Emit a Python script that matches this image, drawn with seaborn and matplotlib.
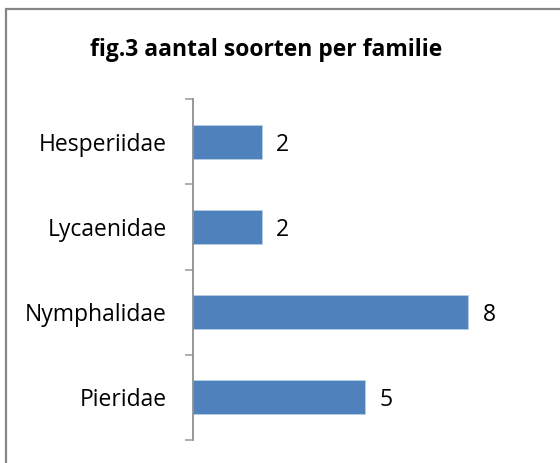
import matplotlib
matplotlib.use("Agg")
import matplotlib.pyplot as plt
import seaborn as sns
import pandas as pd
from matplotlib.patches import Rectangle

sns.set_style("white")
plt.rcParams["font.family"] = ["Open Sans", "DejaVu Sans"]

TITLE = "fig.3 aantal soorten per familie"
FAMILIES = ["Hesperiidae", "Lycaenidae", "Nymphalidae", "Pieridae"]
COUNTS = [2, 2, 8, 5]
BAR_COLOR = "#4F81BD"
AXIS_GREY = "#868686"

df = pd.DataFrame({"familie": FAMILIES, "aantal": COUNTS})

fig = plt.figure(figsize=(5.6, 4.63), dpi=100)
ax = fig.add_axes([193 / 560, 1 - 440 / 463, (537 - 193) / 560, (440 - 99) / 463])

sns.barplot(data=df, x="aantal", y="familie", order=FAMILIES, color=BAR_COLOR,
            width=0.4, saturation=1, edgecolor="#B9CDE5", linewidth=0.6, ax=ax)

ax.set_xlim(0, 10)
ax.set_ylim(3.5, -0.5)
ax.set_xlabel("")
ax.set_ylabel("")
ax.set_xticks([])

for spine in ["top", "right", "bottom"]:
    ax.spines[spine].set_visible(False)
ax.spines["left"].set_color(AXIS_GREY)
ax.spines["left"].set_linewidth(1.2)

# Excel style: ticks between categories, labels centred
ax.set_yticks([-0.5, 0.5, 1.5, 2.5, 3.5], minor=True)
ax.tick_params(axis="y", which="minor", left=True, length=6, width=1.2, color="#A0A0A0", direction="out")
ax.tick_params(axis="y", which="major", left=False, length=0, pad=19, labelsize=16.5, labelcolor="#000000")

for i, v in enumerate(COUNTS):
    ax.text(v + 0.42, i, str(v), va="center_baseline", ha="left", fontsize=16.5, color="#000000")

fig.text(266 / 560, 1 - 50 / 463, TITLE, ha="center", va="center", fontsize=16.5,
         fontweight="bold", color="#000000")

# chart area border
fig.patches.append(Rectangle((6 / 560, -0.05), 1.2, 1 - 9 / 463 + 0.05, transform=fig.transFigure,
                             fill=False, edgecolor=AXIS_GREY, linewidth=1.6, zorder=10))

fig.savefig("out.png", dpi=100, facecolor="white")
